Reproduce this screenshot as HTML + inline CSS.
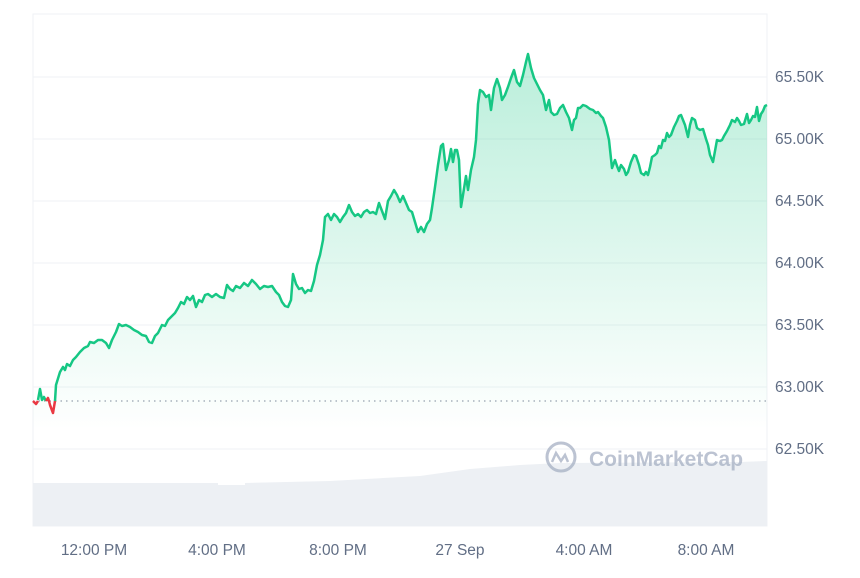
<!DOCTYPE html>
<html><head><style>body{margin:0;background:#fff}</style></head><body>
<svg width="860" height="573" viewBox="0 0 860 573" xmlns="http://www.w3.org/2000/svg" font-family="Liberation Sans, sans-serif">
<defs><linearGradient id="g" x1="0" y1="50" x2="0" y2="430" gradientUnits="userSpaceOnUse"><stop offset="0" stop-color="#16c784" stop-opacity="0.3"/><stop offset="1" stop-color="#16c784" stop-opacity="0"/></linearGradient></defs>
<rect x="33" y="14" width="734" height="512" fill="none" stroke="#eff2f5"/>
<g stroke="#eff2f5" stroke-width="1">
<line x1="33" x2="767" y1="77" y2="77"/><line x1="33" x2="767" y1="139" y2="139"/><line x1="33" x2="767" y1="201" y2="201"/><line x1="33" x2="767" y1="263" y2="263"/><line x1="33" x2="767" y1="325" y2="325"/><line x1="33" x2="767" y1="387" y2="387"/><line x1="33" x2="767" y1="449" y2="449"/></g>
<polygon fill="#edf0f4" points="33,526 33,483 218,483 218,485 245,485 245,483 330,481 420,476 470,469 520,465 560,463 740,462 767,461 767,526"/>
<g opacity="0.75"><circle cx="561" cy="457" r="14" fill="none" stroke="#a6b0c3" stroke-width="3"/><path d="M552,462 l4,-9 l5,8 l4,-6 l3,7" fill="none" stroke="#a6b0c3" stroke-width="2.5"/>
<text x="589" y="466" font-size="21" font-weight="bold" fill="#a6b0c3">CoinMarketCap</text></g>
<line x1="33" x2="767" y1="401" y2="401" stroke="#808a9d" stroke-dasharray="1.5,4"/>
<polygon fill="url(#g)" points="33,430 33,401 36,404 38,400 40,389 42,400 44,397 46,402 48,398 50,405 53,413 56,385 60,372 63,367 65,370 67,364 70,366 73,360 76,357 80,352 84,348 88,346 90,342 94,343 98,340 102,340 106,343 109,348 112,340 116,332 119,324 122,326 126,325 130,327 134,330 138,332 142,335 146,336 149,342 152,343 155,336 158,333 162,325 165,326 168,320 172,316 175,313 178,308 181,302 184,304 187,297 190,300 193,296 196,307 199,300 202,302 205,295 208,294 212,297 216,294 220,297 224,298 227,285 230,289 233,291 236,286 240,288 244,283 248,286 252,280 256,284 260,289 264,286 268,287 272,286 276,292 279,295 282,302 285,306 288,307 291,300 293,274 296,284 299,289 302,288 305,293 308,290 311,291 314,281 317,265 320,255 323,240 325,217 328,214 331,220 334,214 337,217 340,222 343,217 346,213 349,205 352,212 355,216 358,214 361,217 364,212 367,210 370,213 373,212 376,214 379,203 382,211 385,219 388,201 391,196 394,190 397,195 400,202 403,196 406,203 409,210 412,212 415,222 418,232 421,227 424,232 427,224 430,220 432,208 435,187 438,165 441,146 443,144 446,170 449,160 451,149 453,162 455,150 457,150 459,160 461,207 463,195 466,176 468,190 471,170 474,157 476,140 478,104 480,90 483,92 486,97 489,95 491,110 494,88 497,79 500,88 502,100 505,95 508,87 511,78 514,70 517,82 520,86 523,75 526,62 528,54 531,68 534,78 537,84 540,90 543,95 546,110 549,100 551,112 554,115 557,114 560,108 563,105 566,112 569,118 572,130 574,120 576,118 578,108 580,108 583,105 586,106 590,109 593,110 596,113 598,112 601,116 603,118 606,127 609,140 612,168 615,160 617,166 619,171 621,165 624,169 626,175 628,172 631,162 634,155 636,156 639,165 641,173 644,175 646,172 648,175 650,167 652,157 655,155 657,153 659,146 661,148 663,140 665,141 667,133 669,137 671,135 674,127 677,121 679,116 681,115 683,120 685,125 688,137 690,125 692,118 695,120 697,128 700,130 703,129 706,139 708,145 710,155 713,162 715,151 717,140 720,141 722,140 724,136 727,131 730,125 732,120 735,122 737,118 739,121 741,125 744,124 747,114 749,123 751,120 753,116 755,117 757,107 759,121 761,114 763,111 765,106 767,105 767,430"/>
<polyline fill="none" stroke="#16c784" stroke-width="2.5" stroke-linejoin="round" points="38,400 40,389 42,400 44,397 46,401"/>
<polyline fill="none" stroke="#ea3943" stroke-width="2.5" stroke-linejoin="round" points="33,401 36,404 38,401"/>
<polyline fill="none" stroke="#ea3943" stroke-width="2.5" stroke-linejoin="round" points="46,401 48,398 49,401 50,405 53,413 55,401"/>
<polyline fill="none" stroke="#16c784" stroke-width="2.5" stroke-linejoin="round" points="55,401 56,385 60,372 63,367 65,370 67,364 70,366 73,360 76,357 80,352 84,348 88,346 90,342 94,343 98,340 102,340 106,343 109,348 112,340 116,332 119,324 122,326 126,325 130,327 134,330 138,332 142,335 146,336 149,342 152,343 155,336 158,333 162,325 165,326 168,320 172,316 175,313 178,308 181,302 184,304 187,297 190,300 193,296 196,307 199,300 202,302 205,295 208,294 212,297 216,294 220,297 224,298 227,285 230,289 233,291 236,286 240,288 244,283 248,286 252,280 256,284 260,289 264,286 268,287 272,286 276,292 279,295 282,302 285,306 288,307 291,300 293,274 296,284 299,289 302,288 305,293 308,290 311,291 314,281 317,265 320,255 323,240 325,217 328,214 331,220 334,214 337,217 340,222 343,217 346,213 349,205 352,212 355,216 358,214 361,217 364,212 367,210 370,213 373,212 376,214 379,203 382,211 385,219 388,201 391,196 394,190 397,195 400,202 403,196 406,203 409,210 412,212 415,222 418,232 421,227 424,232 427,224 430,220 432,208 435,187 438,165 441,146 443,144 446,170 449,160 451,149 453,162 455,150 457,150 459,160 461,207 463,195 466,176 468,190 471,170 474,157 476,140 478,104 480,90 483,92 486,97 489,95 491,110 494,88 497,79 500,88 502,100 505,95 508,87 511,78 514,70 517,82 520,86 523,75 526,62 528,54 531,68 534,78 537,84 540,90 543,95 546,110 549,100 551,112 554,115 557,114 560,108 563,105 566,112 569,118 572,130 574,120 576,118 578,108 580,108 583,105 586,106 590,109 593,110 596,113 598,112 601,116 603,118 606,127 609,140 612,168 615,160 617,166 619,171 621,165 624,169 626,175 628,172 631,162 634,155 636,156 639,165 641,173 644,175 646,172 648,175 650,167 652,157 655,155 657,153 659,146 661,148 663,140 665,141 667,133 669,137 671,135 674,127 677,121 679,116 681,115 683,120 685,125 688,137 690,125 692,118 695,120 697,128 700,130 703,129 706,139 708,145 710,155 713,162 715,151 717,140 720,141 722,140 724,136 727,131 730,125 732,120 735,122 737,118 739,121 741,125 744,124 747,114 749,123 751,120 753,116 755,117 757,107 759,121 761,114 763,111 765,106 767,105"/>
<g fill="#616e85" font-size="15.5">
<text x="775" y="82">65.50K</text><text x="775" y="144">65.00K</text><text x="775" y="206">64.50K</text><text x="775" y="268">64.00K</text><text x="775" y="330">63.50K</text><text x="775" y="392">63.00K</text><text x="775" y="454">62.50K</text>
</g>
<g fill="#616e85" font-size="15.5" text-anchor="middle">
<text x="94" y="555">12:00 PM</text><text x="217" y="555">4:00 PM</text><text x="338" y="555">8:00 PM</text><text x="460" y="555">27 Sep</text><text x="584" y="555">4:00 AM</text><text x="706" y="555">8:00 AM</text>
</g>
</svg>
</body></html>
